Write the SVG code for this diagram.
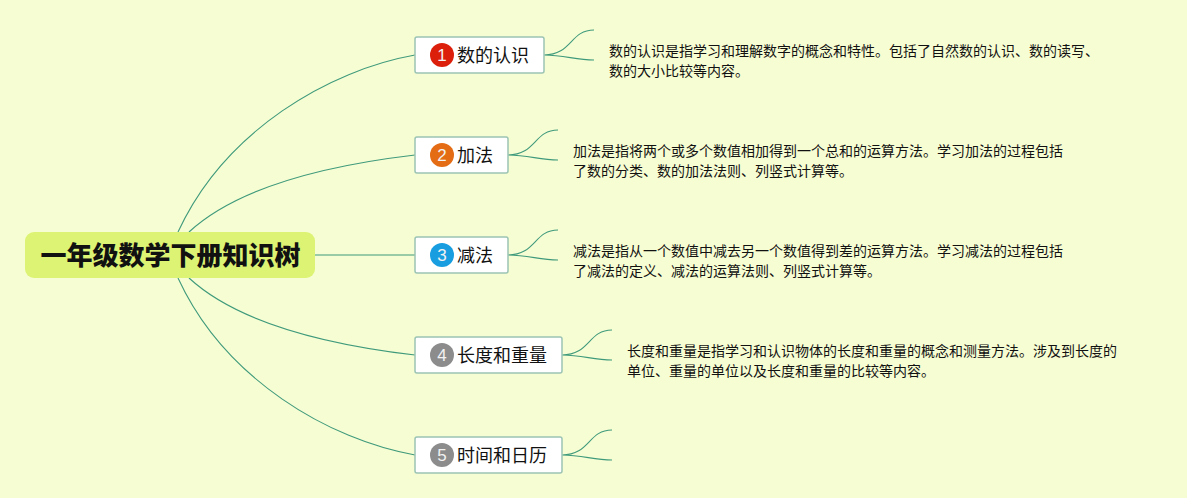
<svg xmlns="http://www.w3.org/2000/svg" width="1187" height="498" viewBox="0 0 1187 498">
<style>
text{font-family:"Noto Sans CJK SC","Liberation Sans",sans-serif;fill:#111}
.c{fill:none;stroke:#3f9a7c;stroke-width:1.1}
.b{fill:#fff;stroke:#9cc4b4;stroke-width:1.5}
.t{font-size:18px}
.d{font-size:14px}
.n{font-size:17px;fill:#f2f2f2;text-anchor:middle;font-family:"Liberation Sans",sans-serif}
</style>
<rect width="1187" height="498" fill="#f7fdd2"/>
<g id="connectors">
<path class="c" d="M178 232C225 130 330 70 415 55"/>
<path class="c" d="M189 232C240 185 330 165 415 155"/>
<path class="c" d="M315 255H415"/>
<path class="c" d="M189 278C240 325 330 345 415 355"/>
<path class="c" d="M178 278C225 380 330 440 415 455"/>
<path class="c" d="M544 55C572 55 570 30 594 30M544 55C565 55 575 60 594 60"/>
<path class="c" d="M508 155C536 155 534 130 558 130M508 155C529 155 539 160 558 160"/>
<path class="c" d="M508 255C536 255 534 230 558 230M508 255C529 255 539 260 558 260"/>
<path class="c" d="M562 355C590 355 588 330 612 330M562 355C583 355 593 360 612 360"/>
<path class="c" d="M562 455C590 455 588 430 612 430M562 455C583 455 593 460 612 460"/>
</g>
<g id="root"><rect x="25" y="232" width="290" height="46" rx="9" fill="#dcf373"/><text x="170.500" y="265" text-anchor="middle" font-size="26px" font-weight="900">一年级数学下册知识树</text></g>
<g id="node1"><rect class="b" x="415" y="37" width="129" height="36" rx="2"/><circle cx="442" cy="55" r="12" fill="#dc1f0a"/><text class="n" x="442" y="61">1</text><text class="t" x="457" y="62">数的认识</text></g>
<g id="node2"><rect class="b" x="415" y="137" width="93" height="36" rx="2"/><circle cx="442" cy="155" r="12" fill="#e46c14"/><text class="n" x="442" y="161">2</text><text class="t" x="457" y="162">加法</text></g>
<g id="node3"><rect class="b" x="415" y="237" width="93" height="36" rx="2"/><circle cx="442" cy="255" r="12" fill="#189ee0"/><text class="n" x="442" y="261">3</text><text class="t" x="457" y="262">减法</text></g>
<g id="node4"><rect class="b" x="415" y="337" width="147" height="36" rx="2"/><circle cx="442" cy="355" r="12" fill="#8c8c8c"/><text class="n" x="442" y="361">4</text><text class="t" x="457" y="362">长度和重量</text></g>
<g id="node5"><rect class="b" x="415" y="437" width="147" height="36" rx="2"/><circle cx="442" cy="455" r="12" fill="#8c8c8c"/><text class="n" x="442" y="461">5</text><text class="t" x="457" y="462">时间和日历</text></g>
<g id="desc1"><text class="d" x="609" y="56">数的认识是指学习和理解数字的概念和特性。包括了自然数的认识、数的读写、</text><text class="d" x="609" y="76">数的大小比较等内容。</text></g>
<g id="desc2"><text class="d" x="573" y="156">加法是指将两个或多个数值相加得到一个总和的运算方法。学习加法的过程包括</text><text class="d" x="573" y="176">了数的分类、数的加法法则、列竖式计算等。</text></g>
<g id="desc3"><text class="d" x="573" y="256">减法是指从一个数值中减去另一个数值得到差的运算方法。学习减法的过程包括</text><text class="d" x="573" y="276">了减法的定义、减法的运算法则、列竖式计算等。</text></g>
<g id="desc4"><text class="d" x="627" y="356">长度和重量是指学习和认识物体的长度和重量的概念和测量方法。涉及到长度的</text><text class="d" x="627" y="376">单位、重量的单位以及长度和重量的比较等内容。</text></g>
</svg>
